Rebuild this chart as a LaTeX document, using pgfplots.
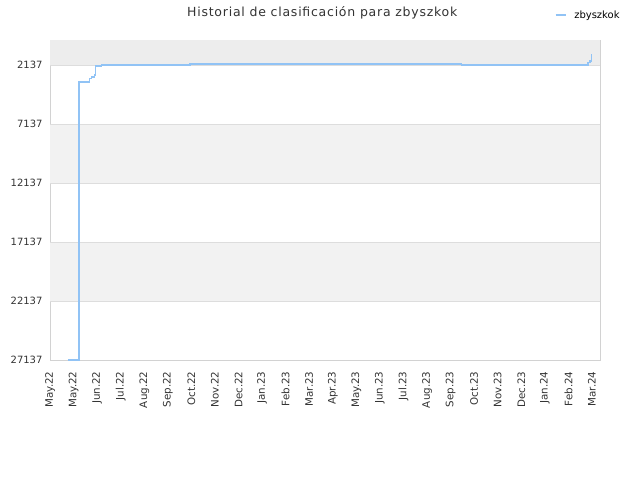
\documentclass[border=0pt]{standalone}
\usepackage{fontspec}
\setmainfont{DejaVu Sans}
\usepackage{pgfplots}
\pgfplotsset{compat=1.18}

\definecolor{rankline}{RGB}{145,195,245}
\definecolor{bandtop}{RGB}{237,237,237}
\definecolor{band}{RGB}{242,242,242}
\definecolor{gridc}{RGB}{221,221,221}
\definecolor{framec}{RGB}{210,210,210}
\definecolor{txt}{RGB}{51,51,51}

\begin{document}
\begin{tikzpicture}
\useasboundingbox (0bp,0bp) rectangle (640bp,480bp);
\begin{axis}[
    at={(50bp,120bp)}, anchor=south west,
    scale only axis,
    width=550bp, height=320bp,
    xmin=0, xmax=23.34,
    ymin=0, ymax=27137,
    y dir=reverse,
    scaled y ticks=false,
    axis line style={framec},
    tick style={draw=none},
    xtick={0,...,23},
    xticklabels={May.22,May.22,Jun.22,Jul.22,Aug.22,Sep.22,Oct.22,Nov.22,Dec.22,Jan.23,Feb.23,Mar.23,Apr.23,May.23,Jun.23,Jul.23,Aug.23,Sep.23,Oct.23,Nov.23,Dec.23,Jan.24,Feb.24,Mar.24},
    xticklabel style={rotate=90, anchor=east, font=\fontsize{10.3bp}{12bp}\selectfont, text=txt},
    ytick={2137,7137,12137,17137,22137,27137},
    yticklabels={2137,7137,12137,17137,22137,27137},
    yticklabel style={font=\fontsize{10bp}{12bp}\selectfont, text=txt},
    xticklabel shift=8bp,
    yticklabel shift=4bp,
    title={Historial de clasificación para zbyszkok},
    title style={at={(0.495,1.065)}, anchor=center,
        font=\fontsize{12.5bp}{14bp}\selectfont\addfontfeature{LetterSpace=6}, text=txt},
    legend style={at={(1.045,1.078)}, anchor=east, draw=none, fill=none,
        font=\fontsize{10bp}{12bp}\selectfont, text=black},
    legend image code/.code={\draw[#1, line width=1.5bp] (0bp,0bp) -- (10bp,0bp); \path (16bp,0bp);},
]
\fill[bandtop] (axis cs:0,0) rectangle (axis cs:23.34,2137);
\fill[band] (axis cs:0,7137) rectangle (axis cs:23.34,12137);
\fill[band] (axis cs:0,17137) rectangle (axis cs:23.34,22137);
\foreach \v in {2137,7137,12137,17137,22137}{
  \edef\temp{\noexpand\draw[gridc, line width=0.8bp] (axis cs:0,\v) -- (axis cs:23.34,\v);}
  \temp
}
\addplot[const plot, rankline, line width=1.5bp] coordinates {
    (0.76,27137) (1.23,3552) (1.68,3265) (1.77,3128) (1.88,2960)
    (1.94,2222) (2.19,2112) (5.94,2027) (17.47,2112)
    (22.84,1908) (22.91,1800) (22.98,1145)
};
\addlegendentry{zbyszkok}
\end{axis}
\end{tikzpicture}
\end{document}
